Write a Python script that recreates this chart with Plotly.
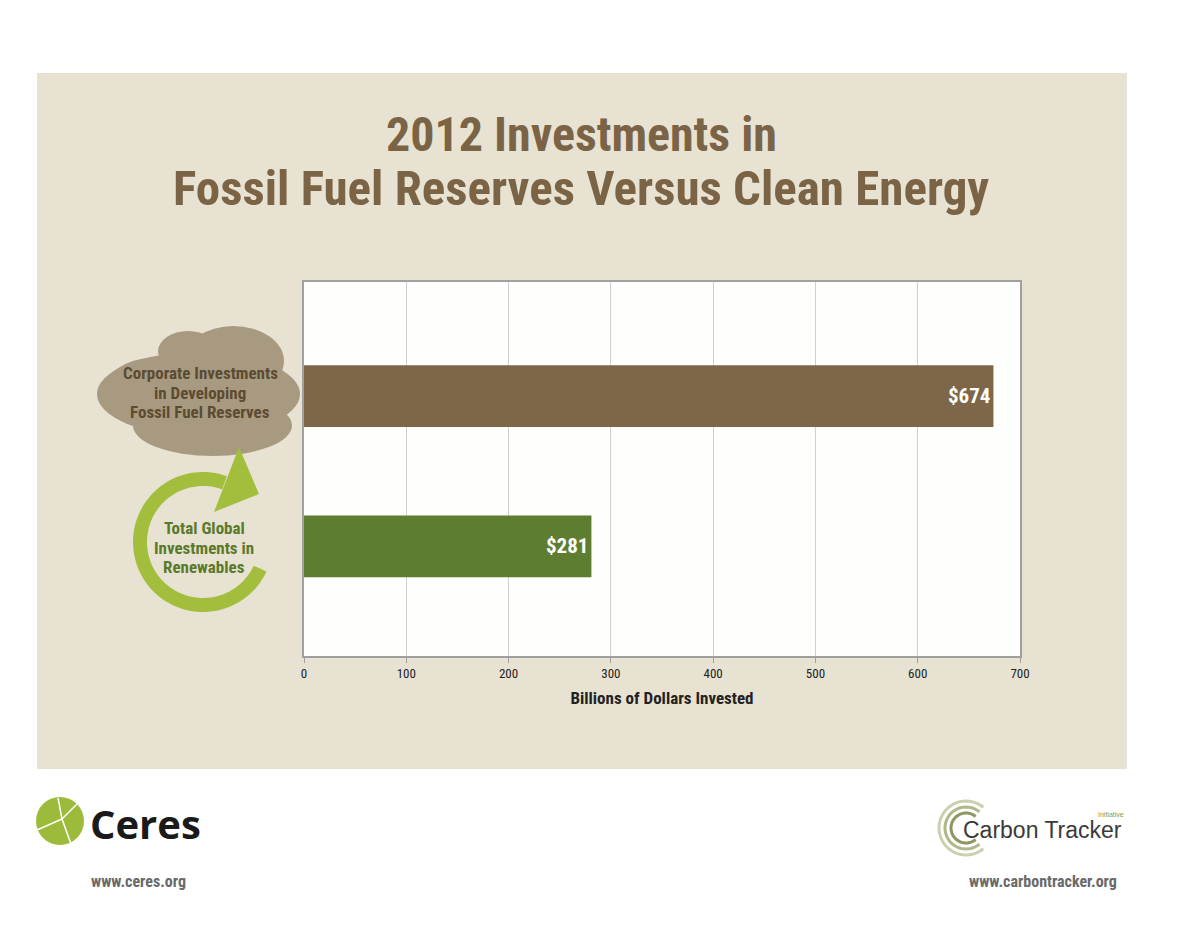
import numpy as np
import plotly.graph_objects as go

# Chart values
categories = ["Fossil Fuel Reserves", "Renewables"]
values = [674, 281]
value_labels = ["$674", "$281"]
bar_colors = ["#7D6748", "#5F7D31"]
x_ticks = [0, 100, 200, 300, 400, 500, 600, 700]

title_lines = ["2012 Investments in", "Fossil Fuel Reserves Versus Clean Energy"]
cloud_lines = ["Corporate Investments", "in Developing", "Fossil Fuel Reserves"]
arrow_lines = ["Total Global", "Investments in", "Renewables"]

# Page geometry (pixels) of the plotting area
W, H = 1200, 927
L, R, T, B = 304, 1020, 282, 656

COND = "Liberation Sans Narrow, Roboto Condensed, Arial Narrow, DejaVu Sans Condensed, sans-serif"
BROWN = "#7B6446"
LIME = "#A3BE3C"


def px(x):
    return (x - L) / (R - L)


def py(y):
    return (B - y) / (B - T)


def pt(x, y):
    return f"{px(x):.5f},{py(y):.5f}"


def label(text, x, y, size, color, anchor="center", family=COND, bold=True):
    return dict(text=text, x=px(x), y=py(y), xref="paper", yref="paper",
                xanchor=anchor, yanchor="middle", showarrow=False,
                font=dict(family=family, size=size, color=color,
                          weight="bold" if bold else "normal"))


fig = go.Figure()
fig.add_trace(go.Bar(
    x=values, y=categories, orientation="h",
    marker=dict(color=bar_colors, line=dict(width=0)),
    width=0.41,
    text=value_labels, textposition="inside", insidetextanchor="end",
    textfont=dict(family=COND, size=21, color="white", weight="bold"),
    hoverinfo="skip",
))

shapes = []
# beige panel behind everything
shapes.append(dict(type="rect", xref="paper", yref="paper",
                   x0=px(37), x1=px(1127), y0=py(769), y1=py(73),
                   fillcolor="#E8E2D3", line=dict(width=0), layer="below"))
# white plot area
shapes.append(dict(type="rect", xref="paper", yref="paper",
                   x0=0, x1=1, y0=0, y1=1,
                   fillcolor="#FEFEFC", line=dict(width=0), layer="below"))

# cloud built from overlapping blobs
CLOUD = "#A89A80"
for x0, y0, x1, y1 in [(97, 352, 300, 436), (183, 326, 284, 396), (158, 331, 218, 372),
                       (133, 395, 292, 456), (104, 358, 200, 428)]:
    shapes.append(dict(type="circle", xref="paper", yref="paper",
                       x0=px(x0), x1=px(x1), y0=py(y1), y1=py(y0),
                       fillcolor=CLOUD, line=dict(width=0), layer="above"))

# circular arrow
cx, cy, r_out, r_in = 203, 542, 70, 56
ang = np.radians(np.linspace(-25, -290, 80))
outer = [(cx + r_out * np.cos(a), cy - r_out * np.sin(a)) for a in ang]
inner = [(cx + r_in * np.cos(a), cy - r_in * np.sin(a)) for a in ang[::-1]]
path = "M " + " L ".join(pt(x, y) for x, y in outer + inner) + " Z"
shapes.append(dict(type="path", xref="paper", yref="paper", path=path,
                   fillcolor=LIME, line=dict(width=0)))
head = "M " + " L ".join(pt(x, y) for x, y in [(239, 447), (259, 494), (214, 512)]) + " Z"
shapes.append(dict(type="path", xref="paper", yref="paper", path=head,
                   fillcolor=LIME, line=dict(width=0)))

# Ceres logo
shapes.append(dict(type="circle", xref="paper", yref="paper",
                   x0=px(36), x1=px(84), y0=py(845), y1=py(797),
                   fillcolor="#9DBB3A", line=dict(width=0)))
for (xa, ya), (xb, yb) in [((37, 830), (62, 819)), ((62, 819), (79, 802)),
                           ((62, 819), (71, 844)), ((62, 819), (58, 798))]:
    shapes.append(dict(type="line", xref="paper", yref="paper",
                       x0=px(xa), y0=py(ya), x1=px(xb), y1=py(yb),
                       line=dict(color="white", width=1.5)))

# Carbon Tracker rings
for rr, col in [(27, "#CDD0AE"), (21, "#B2B78A"), (15, "#8F9660")]:
    a = np.radians(np.linspace(50, 310, 40))
    ring = "M " + " L ".join(pt(966 + rr * np.cos(t), 828 - rr * np.sin(t)) for t in a)
    shapes.append(dict(type="path", xref="paper", yref="paper", path=ring,
                       line=dict(color=col, width=3)))

annotations = [
    label(title_lines[0], 581, 134, 48, BROWN),
    label(title_lines[1], 581, 188, 49, BROWN),
]
for i, line in enumerate(cloud_lines):
    annotations.append(label(line, 200, 373 + 19.5 * i, 17, "#5C4B33"))
for i, line in enumerate(arrow_lines):
    annotations.append(label(line, 204, 528 + 19.5 * i, 17, "#5A7A2A"))
annotations += [
    label("Ceres", 88, 823, 40, "#1A1A1A", anchor="left", family="Open Sans, DejaVu Sans, sans-serif"),
    label("www.ceres.org", 138, 881, 16, "#6A6A6A"),
    label("Carbon Tracker", 1124, 830, 23, "#3A3A3A", anchor="right",
          family="Liberation Sans, Arial, sans-serif", bold=False),
    label("Initiative", 1126, 814, 7, "#8A9A3A", anchor="right",
          family="Liberation Sans, Arial, sans-serif", bold=False),
    label("www.carbontracker.org", 1043, 881, 16, "#6A6A6A"),
]

fig.update_layout(
    width=W, height=H,
    margin=dict(l=L, r=W - R, t=T, b=H - B, pad=0),
    paper_bgcolor="white", plot_bgcolor="rgba(0,0,0,0)",
    showlegend=False,
    shapes=shapes, annotations=annotations,
    xaxis=dict(range=[0, 700], tickvals=x_ticks, showgrid=True, gridcolor="#CFCFCF", gridwidth=1,
               zeroline=False, showline=True, linecolor="#A0A0A0", linewidth=1.5, mirror=True,
               ticks="outside", ticklen=5, tickcolor="#A0A0A0",
               tickfont=dict(family=COND, size=13, color="#222222"),
               title=dict(text="<b>Billions of Dollars Invested</b>", standoff=12,
                          font=dict(family=COND, size=17, color="#222222"))),
    yaxis=dict(range=[1.73, -0.76], showticklabels=False, showgrid=False, zeroline=False,
               showline=True, linecolor="#A0A0A0", linewidth=1.5, mirror=True, ticks=""),
)

fig.write_html("out.html", config={"displayModeBar": False},
               post_script="document.body.style.margin='0';")
